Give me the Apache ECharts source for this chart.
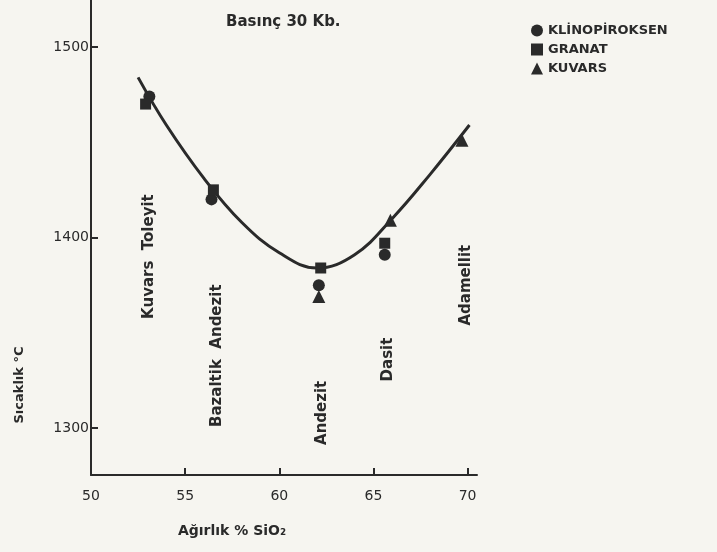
<!DOCTYPE html>
<html lang="tr">
<head>
    <meta charset="UTF-8">
    <title>Basınç 30 Kb.</title>
    <script src="https://cdn.jsdelivr.net/npm/echarts@6/dist/echarts.min.js"></script>
</head>
<body style="margin:0;background:#f6f5f0;">
    <div id="main" style="width: 717px;height:552px;"></div>
    <script>
        // veriler
        let klinoSiO2 = [53.1, 56.4, 62.1, 65.6]
        let klinoT = [1474, 1420, 1375, 1391]
        let granatSiO2 = [52.9, 56.5, 62.2, 65.6]
        let granatT = [1470, 1425, 1384, 1397]
        let kuvarsSiO2 = [62.1, 65.9, 69.7]
        let kuvarsT = [1369, 1409, 1451]
        let curveSiO2 = [52.5, 54, 56, 58, 60, 62, 64, 66, 68, 70.1]
        let curveT = [1484, 1459, 1431, 1408, 1392, 1384, 1391, 1410, 1433, 1459]
        let rockNames = ['Kuvars  Toleyit', 'Bazaltik  Andezit', 'Andezit', 'Dasit', 'Adamellit']
        let rockSiO2 = [53.1, 56.7, 62.3, 65.8, 69.9]
        let rockT = [1390, 1338, 1308, 1336, 1375]
        let xTicks = [50, 55, 60, 65, 70]
        let yTicks = [1300, 1400, 1500]
    </script>
    <script>
        var chartDom = document.getElementById('main');
        var myChart = echarts.init(chartDom);
        var ink = '#2a2a2a';
        var font = 'DejaVu Sans';

        function pairs(xs, ys) {
            return xs.map((x, i) => [x, ys[i]]);
        }

        var option = {
            backgroundColor: '#f6f5f0',
            animation: false,
            title: {
                text: 'Basınç 30 Kb.',
                left: 221,
                top: 10,
                textStyle: { fontFamily: font, fontSize: 15, fontWeight: 'bold', color: ink }
            },
            legend: {
                orient: 'vertical',
                left: 526,
                top: 19,
                itemGap: 6,
                itemWidth: 12,
                itemHeight: 12,
                data: [
                    { name: 'KLİNOPİROKSEN', icon: 'circle' },
                    { name: 'GRANAT', icon: 'rect' },
                    { name: 'KUVARS', icon: 'triangle' }
                ],
                textStyle: { fontFamily: font, fontSize: 13, fontWeight: 'bold', color: ink }
            },
            grid: {
                left: 91,
                right: 240,
                top: 0,
                bottom: 77
            },
            xAxis: {
                type: 'value',
                min: 50,
                max: 70.5,
                axisLine: { lineStyle: { color: ink, width: 2 } },
                axisTick: { inside: true, length: 7, customValues: xTicks, lineStyle: { color: ink, width: 2 } },
                axisLabel: { customValues: xTicks, margin: 14, fontFamily: font, fontSize: 14, color: ink },
                splitLine: { show: false }
            },
            yAxis: {
                type: 'value',
                min: 1275.4,
                max: 1524.6,
                axisLine: { show: true, lineStyle: { color: ink, width: 2 } },
                axisTick: { show: true, inside: true, length: 7, customValues: yTicks, lineStyle: { color: ink, width: 2 } },
                axisLabel: { customValues: yTicks, margin: 2, formatter: v => String(v), fontFamily: font, fontSize: 14, color: ink },
                splitLine: { show: false }
            },
            graphic: [
                {
                    type: 'text',
                    x: 20,
                    y: 385,
                    rotation: Math.PI / 2,
                    style: {
                        text: 'Sıcaklık °C',
                        fontFamily: font, fontSize: 13, fontWeight: 'bold', fill: ink,
                        textAlign: 'center', textVerticalAlign: 'middle'
                    }
                },
                {
                    type: 'text',
                    x: 232,
                    y: 531,
                    style: {
                        text: 'Ağırlık % SiO₂',
                        fontFamily: font, fontSize: 14, fontWeight: 'bold', fill: ink,
                        textAlign: 'center', textVerticalAlign: 'middle'
                    }
                }
            ],
            series: [
                {
                    name: 'curve',
                    type: 'line',
                    smooth: 0.4,
                    symbol: 'none',
                    data: pairs(curveSiO2, curveT),
                    lineStyle: { color: ink, width: 3 },
                    z: 1
                },
                {
                    name: 'KLİNOPİROKSEN',
                    type: 'scatter',
                    symbol: 'circle',
                    symbolSize: 12,
                    itemStyle: { color: ink, opacity: 1 },
                    data: pairs(klinoSiO2, klinoT)
                },
                {
                    name: 'GRANAT',
                    type: 'scatter',
                    symbol: 'rect',
                    symbolSize: 11,
                    itemStyle: { color: ink, opacity: 1 },
                    data: pairs(granatSiO2, granatT)
                },
                {
                    name: 'KUVARS',
                    type: 'scatter',
                    symbol: 'triangle',
                    symbolSize: 13,
                    itemStyle: { color: ink, opacity: 1 },
                    data: pairs(kuvarsSiO2, kuvarsT)
                },
                {
                    name: 'rocks',
                    type: 'scatter',
                    symbolSize: 1,
                    itemStyle: { color: 'rgba(0,0,0,0)', opacity: 1 },
                    silent: true,
                    data: rockSiO2.map((x, i) => ({ value: [x, rockT[i]], name: rockNames[i] })),
                    label: {
                        show: true,
                        position: 'inside',
                        rotate: 90,
                        formatter: p => p.name,
                        fontFamily: font,
                        fontSize: 15,
                        fontWeight: 'bold',
                        color: ink,
                        opacity: 1
                    }
                }
            ]
        };

        option && myChart.setOption(option);
    </script>
</body>
</html>
